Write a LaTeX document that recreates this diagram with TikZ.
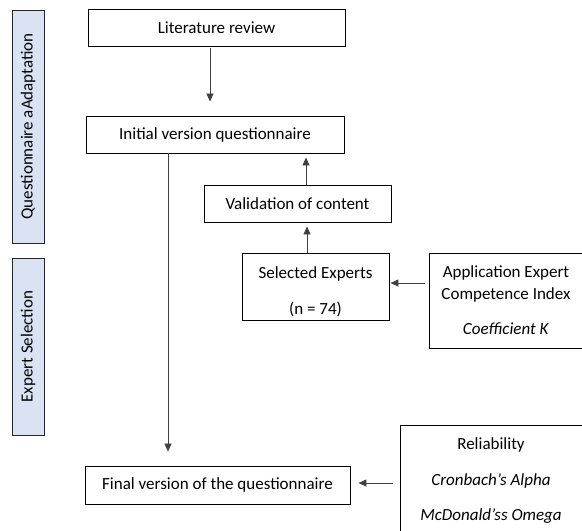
\documentclass[tikz,border=0pt]{standalone}
\usepackage{fontspec}
\setmainfont{Carlito}
\usetikzlibrary{arrows.meta}

\definecolor{barfill}{HTML}{DAE3F3}

\tikzset{
  stepbox/.style={draw=black, line width=0.9pt, fill=white, inner sep=0pt, align=center,
    font=\fontsize{17}{22}\selectfont},
  sidebar/.style={draw=black!85, line width=1pt, fill=barfill, rotate=90, inner sep=0pt,
    minimum height=32pt, font=\fontsize{17}{22}\selectfont},
  arr/.style={draw=black!75, line width=0.7pt, -{Triangle[length=8pt,width=7pt]}}
}

\begin{document}
\begin{tikzpicture}[x=1pt,y=-1pt]
  \useasboundingbox (0,0) rectangle (582,531);
  \clip (0,0) rectangle (582,531);
  % side bars
  \node[sidebar, minimum width=233pt] (barA) at (28,126.5) {Questionnaire aAdaptation};
  \node[sidebar, minimum width=177pt] (barB) at (28,346.5) {Expert Selection};
  % boxes
  \node[stepbox, minimum width=257pt, minimum height=37pt] (lit) at (216.5,27.5) {Literature review};
  \node[stepbox, minimum width=258pt, minimum height=37pt] (init) at (215,134.5) {Initial version questionnaire};
  \node[stepbox, minimum width=187pt, minimum height=37pt] (valid) at (297.5,203.5) {Validation of content};
  \node[stepbox, minimum width=147pt, minimum height=67pt] (sel) at (315.5,286.5) {\rule{0pt}{22pt}Selected Experts\\[14pt](n = 74)};
  \node[stepbox, minimum width=153pt, minimum height=95pt] (app) at (506,300.5) {Application Expert\\Competence Index\\[13pt]\textit{Coefficient K}};
  \node[stepbox, minimum width=265pt, minimum height=38pt] (final) at (217.5,485) {Final version of the questionnaire};
  \node[stepbox, minimum width=182pt, minimum height=112pt] (rel) at (491,481) {Reliability\\[14pt]\textit{Cronbach’s Alpha}\\[13pt]\textit{McDonald’ss Omega}};
  % connectors
  \draw[arr, shorten <=2pt, shorten >=14pt] ([xshift=-6.5pt]lit.south) -- ([xshift=-6.5pt]lit.south |- init.north);
  \draw[arr, shorten >=14pt] ([xshift=-47pt]init.south) -- ([xshift=-47pt]init.south |- final.north);
  \draw[arr, shorten >=4pt] ([xshift=8.5pt]valid.north) -- ([xshift=8.5pt]valid.north |- init.south);
  \draw[arr, shorten >=4pt] ([xshift=-8.5pt]sel.north) -- ([xshift=-8.5pt]sel.north |- valid.south);
  \draw[arr, shorten <=4pt, shorten >=1pt] ([yshift=17.5pt]app.west) -- ([yshift=17.5pt]app.west -| sel.east);
  \draw[arr, shorten <=7pt, shorten >=8pt] ([yshift=-2pt]rel.west) -- ([yshift=-2pt]rel.west -| final.east);
\end{tikzpicture}
\end{document}
